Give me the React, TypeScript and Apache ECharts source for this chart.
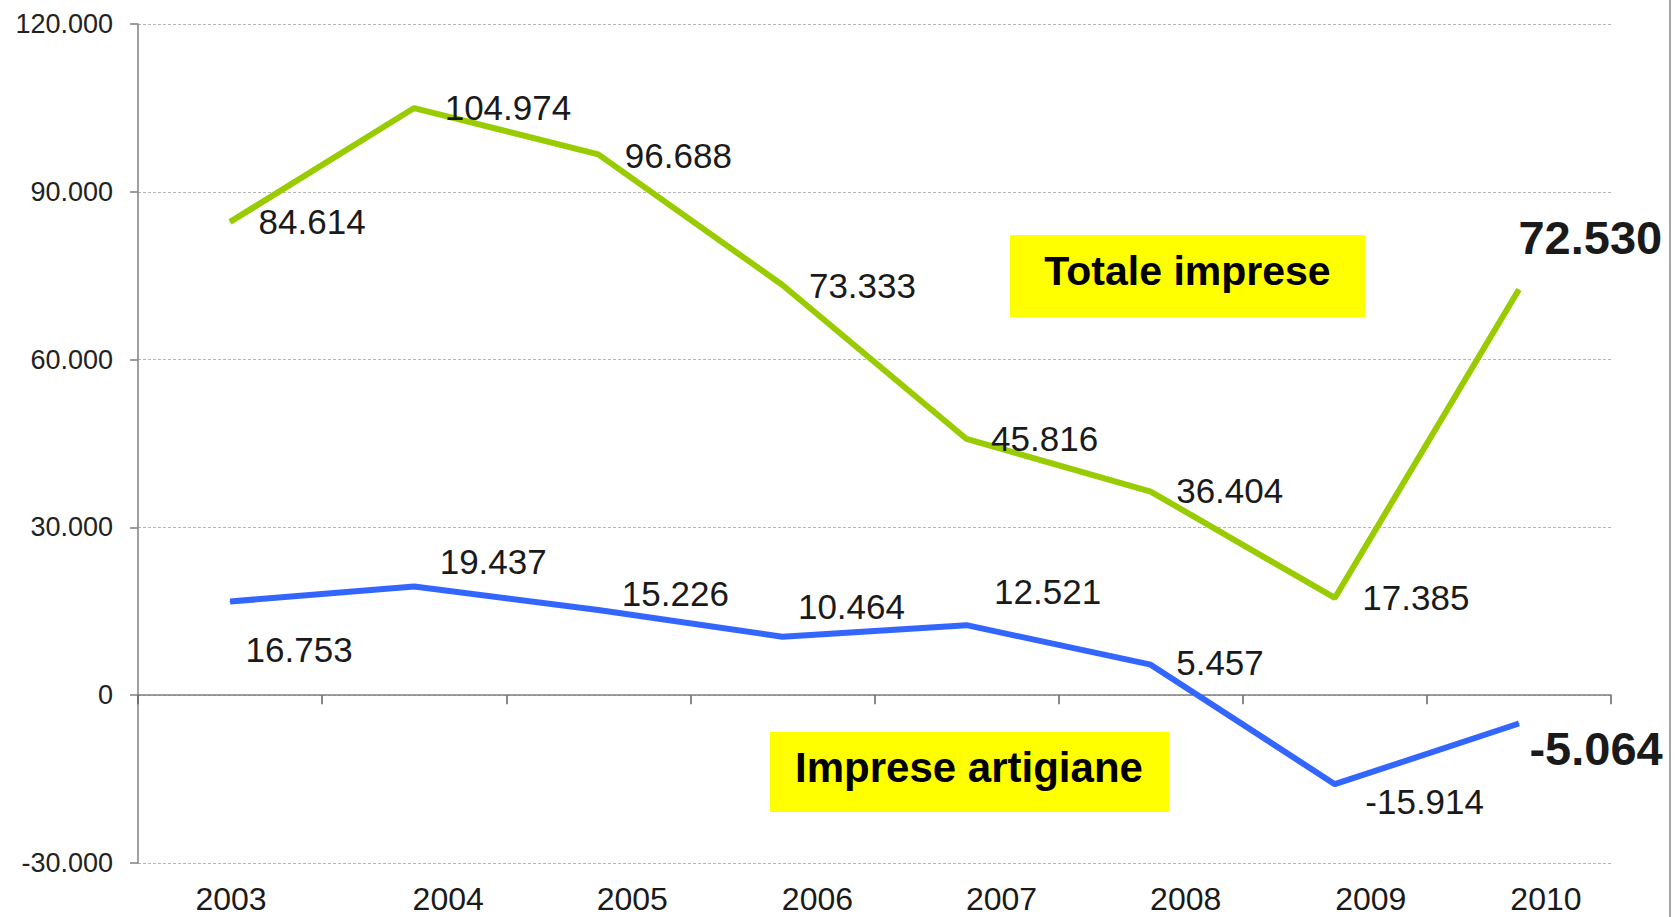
import React, { useEffect, useRef } from "react";
import * as echarts from "echarts";

const years = ["2003", "2004", "2005", "2006", "2007", "2008", "2009", "2010"];
const totaleImprese = [84614, 104974, 96688, 73333, 45816, 36404, 17385, 72530];
const impreseArtigiane = [16753, 19437, 15226, 10464, 12521, 5457, -15914, -5064];
const yMin = -30000;
const yMax = 120000;
const yStep = 30000;
const totaleName = "Totale imprese";
const artigianeName = "Imprese artigiane";

// label placement (style, px offsets from the point)
const totaleLabelOffsets = [[28, 0], [30, -1], [26, 1], [26, 0], [24, 0], [25, -1], [27, 0], [-1, -52]];
const artigianeLabelOffsets = [[15, 48], [25, -25], [23, -17], [15, -30], [27, -34], [25, -2], [30, 17], [10, 25]];
const xLabelShift = [2, 68, 68, 70, 70, 70, 72, 54];

const fmt = (v: number) =>
  (v < 0 ? "-" : "") + String(Math.abs(Math.round(v))).replace(/\B(?=(\d{3})+(?!\d))/g, ".");

const FONT = "'Liberation Sans', Arial, sans-serif";

function buildData(values: number[], offsets: number[][]) {
  return values.map((v, i) => {
    const last = i === values.length - 1;
    return {
      value: v,
      label: {
        show: true,
        position: "right",
        distance: 0,
        offset: offsets[i],
        fontSize: last ? 47 : 35,
        fontWeight: last ? "bold" : "normal",
        fontFamily: FONT,
        color: "#1a1a1a",
        formatter: (p: any) => fmt(p.value),
      },
    };
  });
}

export default function App() {
  const ref = useRef<HTMLDivElement>(null);
  useEffect(() => {
    if (!ref.current) return;
    const chart = echarts.init(ref.current, undefined, { renderer: "svg" });
    const rich: any = {};
    xLabelShift.forEach((s, i) => {
      rich["s" + i] = {
        padding: [0, 0, 0, s],
        fontSize: 32,
        fontFamily: FONT,
        color: "#1a1a1a",
      };
    });
    chart.setOption({
      animation: false,
      backgroundColor: "#ffffff",
      grid: { left: 138, right: 68, top: 24, bottom: 54, containLabel: false },
      xAxis: [
        {
          type: "category",
          data: years,
          boundaryGap: true,
          position: "bottom",
          axisLine: { show: false, onZero: false },
          axisTick: { show: false },
          splitLine: { show: false },
          axisLabel: {
            show: true,
            margin: 20,
            fontSize: 32,
            fontFamily: FONT,
            color: "#1a1a1a",
            formatter: (val: string, idx: number) => `{s${idx}|${val}}`,
            rich,
          },
        },
        {
          type: "category",
          data: years,
          boundaryGap: true,
          position: "bottom",
          axisLine: { show: true, onZero: true, lineStyle: { color: "#808080", width: 1.5 } },
          axisTick: { show: true, length: 9, lineStyle: { color: "#606060", width: 1.5 } },
          axisLabel: { show: false },
          splitLine: { show: false },
        },
      ],
      yAxis: {
        type: "value",
        min: yMin,
        max: yMax,
        interval: yStep,
        axisLine: { show: true, lineStyle: { color: "#808080", width: 1.5 } },
        axisTick: { show: true, length: 8, lineStyle: { color: "#808080", width: 1.5 } },
        axisLabel: {
          margin: 25,
          fontSize: 27,
          fontFamily: FONT,
          color: "#222222",
          formatter: (v: number) => fmt(v),
        },
        splitLine: {
          show: true,
          lineStyle: { color: "#b4b4b4", width: 1, type: [3, 2] },
        },
      },
      series: [
        {
          name: totaleName,
          type: "line",
          xAxisIndex: 0,
          data: buildData(totaleImprese, totaleLabelOffsets),
          symbol: "circle",
          symbolSize: 1,
          itemStyle: { color: "#99cc00" },
          lineStyle: { color: "#99cc00", width: 6 },
          z: 3,
        },
        {
          name: artigianeName,
          type: "line",
          xAxisIndex: 0,
          data: buildData(impreseArtigiane, artigianeLabelOffsets),
          symbol: "circle",
          symbolSize: 1,
          itemStyle: { color: "#3366ff" },
          lineStyle: { color: "#3366ff", width: 6 },
          z: 3,
        },
      ],
      graphic: [
        {
          type: "rect",
          shape: { x: 1010, y: 235, width: 355, height: 82 },
          style: { fill: "#ffff00" },
          z: 10,
        },
        {
          type: "text",
          x: 1187.5,
          y: 271,
          style: {
            text: totaleName,
            fontSize: 41,
            fontWeight: "bold",
            fontFamily: FONT,
            fill: "#000000",
            align: "center",
            verticalAlign: "middle",
          },
          z: 11,
        },
        {
          type: "rect",
          shape: { x: 770, y: 732, width: 399, height: 80 },
          style: { fill: "#ffff00" },
          z: 10,
        },
        {
          type: "text",
          x: 969,
          y: 767,
          style: {
            text: artigianeName,
            fontSize: 42,
            fontWeight: "bold",
            fontFamily: FONT,
            fill: "#000000",
            align: "center",
            verticalAlign: "middle",
          },
          z: 11,
        },
        {
          type: "line",
          shape: { x1: 1670, y1: 0, x2: 1670, y2: 917 },
          style: { stroke: "#8a8a8a", lineWidth: 1.5 },
          z: 10,
        },
      ],
    });
    return () => chart.dispose();
  }, []);
  return (
    <div
      ref={ref}
      style={{ position: "absolute", left: 0, top: 0, width: 1679, height: 917 }}
    />
  );
}
